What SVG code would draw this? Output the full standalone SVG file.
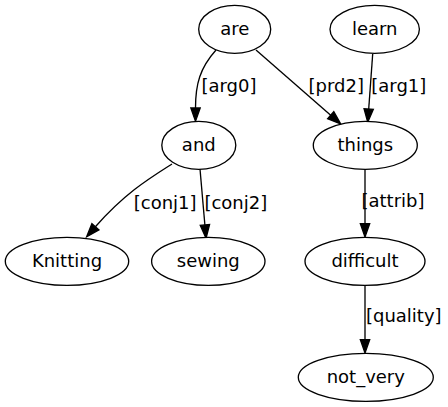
<svg xmlns="http://www.w3.org/2000/svg" width="448" height="407" viewBox="0 0 448 407">
<style>
.n ellipse{fill:#fff;stroke:#000;stroke-width:1.33}
text{font-family:"DejaVu Sans",sans-serif;font-size:18px;fill:#000;text-anchor:middle}
.e path{fill:none;stroke:#000;stroke-width:1.33;marker-end:url(#ah)}
</style>
<defs>
<marker id="ah" markerUnits="userSpaceOnUse" markerWidth="14" markerHeight="10" refX="0" refY="4.67" orient="auto" overflow="visible">
<path d="M0,0 L13.3,4.67 L0,9.33 Z" fill="#000" stroke="#000" stroke-width="1.33"/>
</marker>
</defs>
<rect width="448" height="407" fill="#fff"/>
<g id="edges" class="e">
<path d="M216,50 C200,68 195.5,84 195.5,108"/>
<path d="M256,50 L330.7,115.2"/>
<path d="M372.7,54 L368.7,109"/>
<path d="M172,164 C150,178 125,193 95.4,226.8"/>
<path d="M200,169 L204.9,225"/>
<path d="M365,169.3 L365,223.7"/>
<path d="M365,285.3 L365,339.7"/>
<text x="229" y="92.4">[arg0]</text>
<text x="336.3" y="92.4">[prd2]</text>
<text x="398.8" y="92.4">[arg1]</text>
<text x="165.2" y="209">[conj1]</text>
<text x="235.8" y="209">[conj2]</text>
<text x="393" y="207.4">[attrib]</text>
<text x="403.8" y="321.7">[quality]</text>
</g>
<g id="are" class="n"><ellipse cx="234.7" cy="29.3" rx="36" ry="24"/><text x="234.7" y="35">are</text></g>
<g id="learn" class="n"><ellipse cx="374.7" cy="29.3" rx="44.7" ry="24"/><text x="374.7" y="35">learn</text></g>
<g id="and" class="n"><ellipse cx="198.8" cy="145.3" rx="37" ry="24"/><text x="198.8" y="151">and</text></g>
<g id="things" class="n"><ellipse cx="365.3" cy="145.3" rx="52" ry="24"/><text x="365.3" y="151">things</text></g>
<g id="Knitting" class="n"><ellipse cx="67" cy="261.3" rx="61.7" ry="24"/><text x="67" y="267">Knitting</text></g>
<g id="sewing" class="n"><ellipse cx="208.3" cy="261.3" rx="56.7" ry="24"/><text x="208.3" y="267">sewing</text></g>
<g id="difficult" class="n"><ellipse cx="365" cy="261.3" rx="60" ry="24"/><text x="365" y="267">difficult</text></g>
<g id="not_very" class="n"><ellipse cx="365.8" cy="377.3" rx="67.5" ry="24"/><text x="365.8" y="383">not_very</text></g>
</svg>
